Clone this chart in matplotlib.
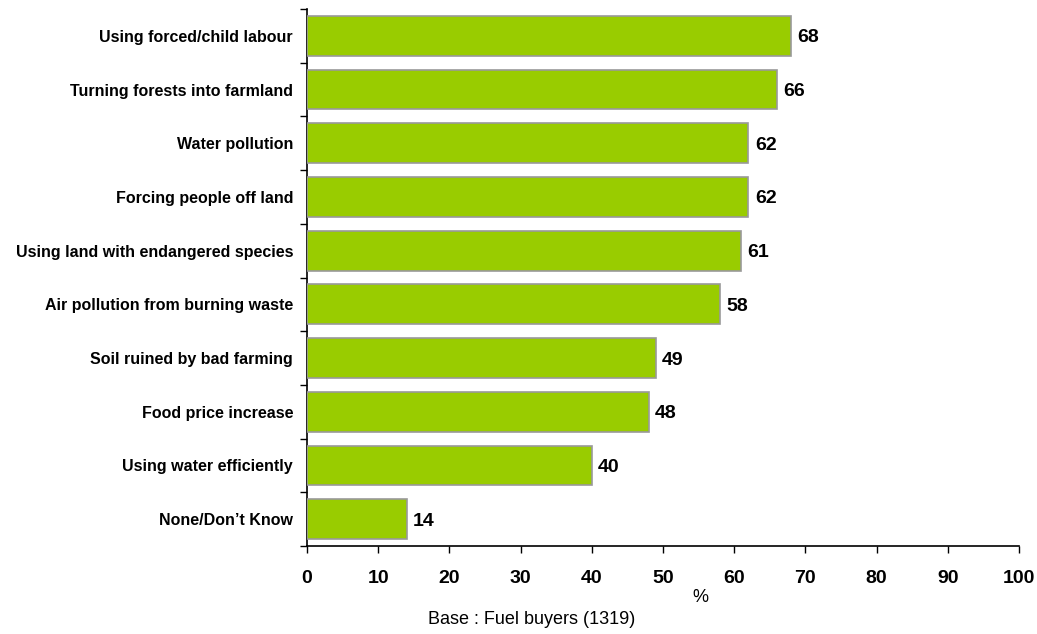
import matplotlib
matplotlib.use("Agg")
import matplotlib.pyplot as plt
from matplotlib.ticker import FixedLocator

categories = [
    "Using forced/child labour",
    "Turning forests into farmland",
    "Water pollution",
    "Forcing people off land",
    "Using land with endangered species",
    "Air pollution from burning waste",
    "Soil ruined by bad farming",
    "Food price increase",
    "Using water efficiently",
    "None/Don\u2019t Know",
]
values = [68, 66, 62, 62, 61, 58, 49, 48, 40, 14]
x_ticks = [0, 10, 20, 30, 40, 50, 60, 70, 80, 90, 100]

plt.rcParams['font.family'] = ['Liberation Sans', 'DejaVu Sans']

fig = plt.figure(figsize=(10.37, 6.34), dpi=100)
ax = fig.add_axes([0.296, 0.1388, 0.9826 - 0.296, 0.9858 - 0.1388])

n = len(categories)
ypos = list(range(n - 1, -1, -1))
ax.barh(ypos, values, height=0.74, color="#99CC00", edgecolor="#999999", linewidth=1.2, zorder=3)

for y, v in zip(ypos, values):
    ax.text(v + 0.9, y, str(v), va="center_baseline", ha="left", fontsize=14, fontweight="bold", color="black")

ax.set_xlim(0, 100)
ax.set_ylim(-0.5, n - 0.5)
ax.set_xticks(x_ticks)
ax.set_xticklabels([str(t) for t in x_ticks], fontsize=14, fontweight="bold")
ax.set_yticks(ypos)
ax.set_yticklabels(categories, fontsize=11.5, fontweight="bold", va="center_baseline")
ax.yaxis.set_minor_locator(FixedLocator([i - 0.5 for i in range(n + 1)]))
ax.tick_params(axis="y", which="major", length=0, pad=10)
ax.tick_params(axis="y", which="minor", length=5, direction="out", width=1)
ax.tick_params(axis="x", which="major", length=5, direction="out", width=1, pad=12)

for s in ["top", "right"]:
    ax.spines[s].set_visible(False)
for s in ["left", "bottom"]:
    ax.spines[s].set_linewidth(1.2)

fig.text(700 / 1037, 1 - 597 / 634, "%", ha="center", va="center", fontsize=13)
fig.text(532 / 1037, 1 - 619 / 634, "Base : Fuel buyers (1319)", ha="center", va="center", fontsize=13)

fig.savefig("out.png", dpi=100)
